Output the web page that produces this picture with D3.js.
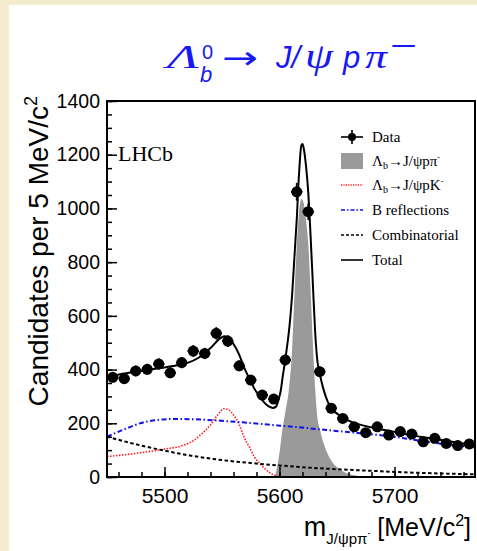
<!DOCTYPE html>
<html>
<head>
<meta charset="utf-8">
<script src="https://cdn.jsdelivr.net/npm/d3@7"></script>
<style>
  html, body { margin: 0; padding: 0; background: #f3eccf; }
  svg { display: block; }
</style>
</head>
<body>
<svg id="chart" width="477" height="551"></svg>
<script>
// Lambda_b -> J/psi p pi- mass fit

// data points (bin centres, candidates, vertical errors)
var massBins = [5455, 5465, 5475, 5485, 5495, 5505, 5515, 5525, 5535, 5545, 5555,
                5565, 5575, 5585, 5595, 5605, 5615, 5625, 5635, 5645, 5655, 5665,
                5675, 5685, 5695, 5705, 5715, 5725, 5735, 5745, 5755, 5765];
var counts   = [371, 366, 395, 401, 421, 388, 426, 469, 460, 535, 506,
                414, 361, 305, 290, 436, 1062, 988, 392, 256, 218, 187,
                165, 187, 156, 169, 160, 131, 144, 125, 117, 123];
var errors   = [19, 19, 20, 20, 21, 20, 21, 22, 21, 23, 22,
                20, 19, 17, 17, 21, 33, 31, 20, 16, 15, 14,
                13, 14, 12, 13, 13, 11, 12, 11, 11, 11];
var halfBin = 5;

// fit components
var sigMass = [5596, 5598, 5600, 5602, 5605, 5608, 5611, 5613, 5615, 5617, 5619,
               5621, 5623, 5625, 5627, 5629, 5631, 5633, 5635, 5638, 5642, 5646,
               5652, 5660, 5670, 5680];
var sigVals = [0, 40, 90, 160, 240, 320, 480, 680, 860, 985, 1035,
               1020, 960, 870, 700, 500, 330, 220, 180, 130, 85, 55,
               30, 12, 3, 0];

var pkMass = [5450, 5475, 5500, 5517, 5525, 5531, 5540, 5546, 5552, 5556, 5560,
              5565, 5569, 5574, 5578, 5583, 5587, 5591, 5595, 5600, 5605, 5700, 5770];
var pkVals = [76, 88, 104, 119, 135, 156, 194, 230, 254, 250, 231,
              195, 150, 110, 76, 50, 32, 18, 7, 1, 0, 0, 0];

var bMass = [5450, 5467, 5484, 5508, 5531, 5554, 5577, 5598, 5612, 5641, 5670, 5699, 5728, 5770];
var bVals = [150, 181, 206, 216, 214, 208, 200, 192, 187, 175, 163, 150, 131, 110];

var combMass = [5450, 5475, 5500, 5525, 5550, 5575, 5600, 5625, 5650, 5675, 5700, 5725, 5750, 5770];
var combVals = [150, 122, 98, 78, 63, 52, 43, 35, 29, 24, 19, 15, 12, 10];

var totMass = [5450, 5465, 5480, 5495, 5510, 5520, 5530, 5540, 5548, 5552, 5556, 5560,
               5565, 5569, 5574, 5578, 5583, 5587, 5591, 5594, 5597, 5599, 5601, 5603,
               5605, 5607, 5609, 5611, 5613, 5615, 5617, 5619, 5620, 5621, 5623, 5625,
               5627, 5629, 5631, 5633, 5635, 5638, 5642, 5646, 5652, 5660, 5670, 5685,
               5700, 5715, 5730, 5745, 5760, 5770];
var totVals = [372, 385, 395, 405, 415, 425, 445, 480, 515, 524, 518, 495,
               455, 410, 365, 330, 298, 276, 262, 257, 262, 285, 320, 380,
               436, 500, 575, 680, 820, 960, 1130, 1235, 1240, 1225, 1160, 1060,
               900, 720, 540, 430, 385, 330, 280, 252, 230, 210, 195, 180,
               168, 155, 145, 135, 125, 120];

var xTicks = [5500, 5600, 5700];
var yTicks = [0, 200, 400, 600, 800, 1000, 1200, 1400];

var W = 477, H = 551;
var plot = { left: 107, right: 475, top: 101, bottom: 477 };

var svg = d3.select('#chart');

// white panel over the parchment background
svg.append('rect')
  .attr('x', 9).attr('y', 5)
  .attr('width', W - 9).attr('height', H - 5)
  .attr('fill', '#fff');

var x = d3.scaleLinear().domain([5450, 5770]).range([plot.left, plot.right]);
var y = d3.scaleLinear().domain([0, 1400]).range([plot.bottom, plot.top]);

svg.append('clipPath').attr('id', 'clip')
  .append('rect')
  .attr('x', plot.left).attr('y', plot.top)
  .attr('width', plot.right - plot.left).attr('height', plot.bottom - plot.top);

var g = svg.append('g').attr('clip-path', 'url(#clip)');

function pairs(xs, ys) {
  return xs.map(function (m, i) { return [m, ys[i]]; });
}

var line = d3.line()
  .x(function (d) { return x(d[0]); })
  .y(function (d) { return y(d[1]); })
  .curve(d3.curveMonotoneX);

var area = d3.area()
  .x(function (d) { return x(d[0]); })
  .y0(y(0))
  .y1(function (d) { return y(d[1]); })
  .curve(d3.curveMonotoneX);

// signal (grey fill)
g.append('path')
  .datum(pairs(sigMass, sigVals))
  .attr('d', area)
  .attr('fill', '#9a9a9a');

// Lambda_b -> J/psi p K- (red dotted)
g.append('path')
  .datum(pairs(pkMass, pkVals))
  .attr('d', line)
  .attr('fill', 'none')
  .attr('stroke', '#ff1a1a')
  .attr('stroke-width', 1.6)
  .attr('stroke-dasharray', '1.5,1.5');

// B reflections (blue dash-dot)
g.append('path')
  .datum(pairs(bMass, bVals))
  .attr('d', line)
  .attr('fill', 'none')
  .attr('stroke', '#1010ee')
  .attr('stroke-width', 2)
  .attr('stroke-dasharray', '5,2.5,1.5,2.5');

// combinatorial (black dashed)
g.append('path')
  .datum(pairs(combMass, combVals))
  .attr('d', line)
  .attr('fill', 'none')
  .attr('stroke', '#000')
  .attr('stroke-width', 2)
  .attr('stroke-dasharray', '3.5,2.5');

// total (black solid)
g.append('path')
  .datum(pairs(totMass, totVals))
  .attr('d', line)
  .attr('fill', 'none')
  .attr('stroke', '#000')
  .attr('stroke-width', 2);

// data with error bars
var pts = g.append('g').selectAll('g')
  .data(massBins.map(function (m, i) { return { m: m, n: counts[i], e: errors[i] }; }))
  .enter().append('g');

pts.append('line')
  .attr('x1', function (d) { return x(d.m); })
  .attr('x2', function (d) { return x(d.m); })
  .attr('y1', function (d) { return y(d.n - d.e); })
  .attr('y2', function (d) { return y(d.n + d.e); })
  .attr('stroke', '#000').attr('stroke-width', 1.8);

pts.append('line')
  .attr('x1', function (d) { return x(d.m - halfBin); })
  .attr('x2', function (d) { return x(d.m + halfBin); })
  .attr('y1', function (d) { return y(d.n); })
  .attr('y2', function (d) { return y(d.n); })
  .attr('stroke', '#000').attr('stroke-width', 1.8);

pts.append('circle')
  .attr('cx', function (d) { return x(d.m); })
  .attr('cy', function (d) { return y(d.n); })
  .attr('r', 5.5)
  .attr('fill', '#000');

// axes
var axisFont = '"Liberation Sans", Arial, sans-serif';

var xAxis = svg.append('g')
  .attr('transform', 'translate(0,' + plot.bottom + ')')
  .call(d3.axisBottom(x).tickValues(d3.range(5460, 5771, 20)).tickSize(-5).tickFormat(''));
xAxis.select('.domain').remove();

var xMajor = svg.append('g')
  .attr('transform', 'translate(0,' + plot.bottom + ')')
  .call(d3.axisBottom(x).tickValues(xTicks).tickSize(-10).tickPadding(11).tickFormat(d3.format('d')));
xMajor.select('.domain').remove();
xMajor.selectAll('text').attr('font-size', 21).attr('font-family', axisFont).attr('fill', '#000');

var yMinor = svg.append('g')
  .attr('transform', 'translate(' + plot.left + ',0)')
  .call(d3.axisLeft(y).tickValues(d3.range(0, 1401, 50)).tickSize(-5).tickFormat(''));
yMinor.select('.domain').remove();

var yMajor = svg.append('g')
  .attr('transform', 'translate(' + plot.left + ',0)')
  .call(d3.axisLeft(y).tickValues(yTicks).tickSize(-10).tickPadding(7).tickFormat(d3.format('d')));
yMajor.select('.domain').remove();
yMajor.selectAll('text').attr('font-size', 19.5).attr('font-family', axisFont).attr('fill', '#000');

svg.selectAll('.tick line').attr('stroke', '#000').attr('stroke-width', 1.5);

svg.append('rect')
  .attr('x', plot.left).attr('y', plot.top)
  .attr('width', plot.right - plot.left).attr('height', plot.bottom - plot.top)
  .attr('fill', 'none')
  .attr('stroke', '#000')
  .attr('stroke-width', 2);

// axis titles
var yt = svg.append('text')
  .attr('transform', 'translate(48,96) rotate(-90)')
  .attr('text-anchor', 'end')
  .attr('font-family', axisFont)
  .attr('font-size', 28)
  .text('Candidates per 5 MeV/c');
yt.append('tspan').attr('font-size', 18).attr('dy', -11).text('2');

var xt = svg.append('text')
  .attr('x', 471).attr('y', 536)
  .attr('text-anchor', 'end')
  .attr('font-family', axisFont)
  .attr('font-size', 25);
xt.append('tspan').attr('font-size', 27).text('m');
xt.append('tspan').attr('font-size', 15).attr('dy', 8).text('J/\u03c8p\u03c0');
xt.append('tspan').attr('font-size', 9).attr('dy', -8).text('-');
xt.append('tspan').attr('dy', 0).text(' [MeV/c');
xt.append('tspan').attr('font-size', 16).attr('dy', -10).text('2');
xt.append('tspan').attr('dy', 10).text(']');

// LHCb label
svg.append('text')
  .attr('x', 118).attr('y', 161)
  .attr('font-family', '"Liberation Serif", "Times New Roman", serif')
  .attr('font-size', 22)
  .text('LHCb');

// title, piece by piece
var blue = '#1818f4';
var serifF = '"Liberation Serif", "Times New Roman", serif';
var titleParts = [
  { t: '\u039b', x: 167, y: 68, f: serifF, s: 33, st: 'italic', len: 32 },
  { t: '0', x: 202, y: 59, f: axisFont, s: 20, st: 'normal' },
  { t: 'b', x: 200, y: 82, f: axisFont, s: 22, st: 'italic' },
  { t: '\u2192', x: 222, y: 69, f: '"DejaVu Sans", sans-serif', s: 32, st: 'normal', len: 36 },
  { t: 'J/', x: 276, y: 68, f: axisFont, s: 31, st: 'italic' },
  { t: '\u03c8', x: 305, y: 68, f: serifF, s: 36, st: 'italic', len: 28 },
  { t: 'p', x: 343, y: 68, f: axisFont, s: 31, st: 'italic' },
  { t: '\u03c0', x: 365, y: 68, f: serifF, s: 34, st: 'italic', len: 22 },
  { t: '\u2212', x: 390, y: 56, f: axisFont, s: 30, st: 'normal', len: 27 }
];
titleParts.forEach(function (p) {
  var tx = svg.append('text')
    .attr('x', p.x).attr('y', p.y)
    .attr('fill', blue)
    .attr('font-family', p.f)
    .attr('font-size', p.s)
    .attr('font-style', p.st)
    .text(p.t);
  if (p.len) tx.attr('textLength', p.len).attr('lengthAdjust', 'spacingAndGlyphs');
});

// legend
var LEGEND = [
  { key: 'data',  y: 137 },
  { key: 'sig',   y: 161 },
  { key: 'pk',    y: 185 },
  { key: 'brefl', y: 210 },
  { key: 'comb',  y: 235 },
  { key: 'total', y: 260 }
];
var lx0 = 341, lx1 = 363, ltx = 372;
var leg = svg.append('g');

LEGEND.forEach(function (item) {
  var yy = item.y;
  if (item.key === 'data') {
    leg.append('line').attr('x1', lx0).attr('x2', lx1).attr('y1', yy).attr('y2', yy)
      .attr('stroke', '#000').attr('stroke-width', 1.6);
    leg.append('line').attr('x1', 352).attr('x2', 352).attr('y1', yy - 7).attr('y2', yy + 7)
      .attr('stroke', '#000').attr('stroke-width', 1.6);
    leg.append('circle').attr('cx', 352).attr('cy', yy).attr('r', 4).attr('fill', '#000');
  } else if (item.key === 'sig') {
    leg.append('rect').attr('x', lx0).attr('y', yy - 8).attr('width', lx1 - lx0).attr('height', 16)
      .attr('fill', '#9a9a9a');
  } else {
    var st = {
      pk:    { c: '#ff1a1a', w: 1.3, d: '1.2,1.2' },
      brefl: { c: '#1010ee', w: 1.6, d: '4,2,1.5,2' },
      comb:  { c: '#000',    w: 1.4, d: '3,2' },
      total: { c: '#000',    w: 1.6, d: null }
    }[item.key];
    leg.append('line').attr('x1', lx0).attr('x2', lx1).attr('y1', yy).attr('y2', yy)
      .attr('stroke', st.c).attr('stroke-width', st.w)
      .attr('stroke-dasharray', st.d);
  }
});

function legText(yy) {
  return leg.append('text').attr('x', ltx).attr('y', yy + 5)
    .attr('font-family', serifF).attr('font-size', 15);
}
legText(137).text('Data');
var t1 = legText(161);
t1.append('tspan').text('\u039b');
t1.append('tspan').attr('font-size', 10).attr('dy', 3).text('b');
t1.append('tspan').attr('dy', -3).text('\u2192J/\u03c8p\u03c0');
t1.append('tspan').attr('font-size', 8).attr('dy', -6).text('-');
var t2 = legText(185);
t2.append('tspan').text('\u039b');
t2.append('tspan').attr('font-size', 10).attr('dy', 3).text('b');
t2.append('tspan').attr('dy', -3).text('\u2192J/\u03c8pK');
t2.append('tspan').attr('font-size', 8).attr('dy', -6).text('-');
legText(210).text('B reflections');
legText(235).text('Combinatorial');
legText(260).text('Total');
</script>
</body>
</html>
